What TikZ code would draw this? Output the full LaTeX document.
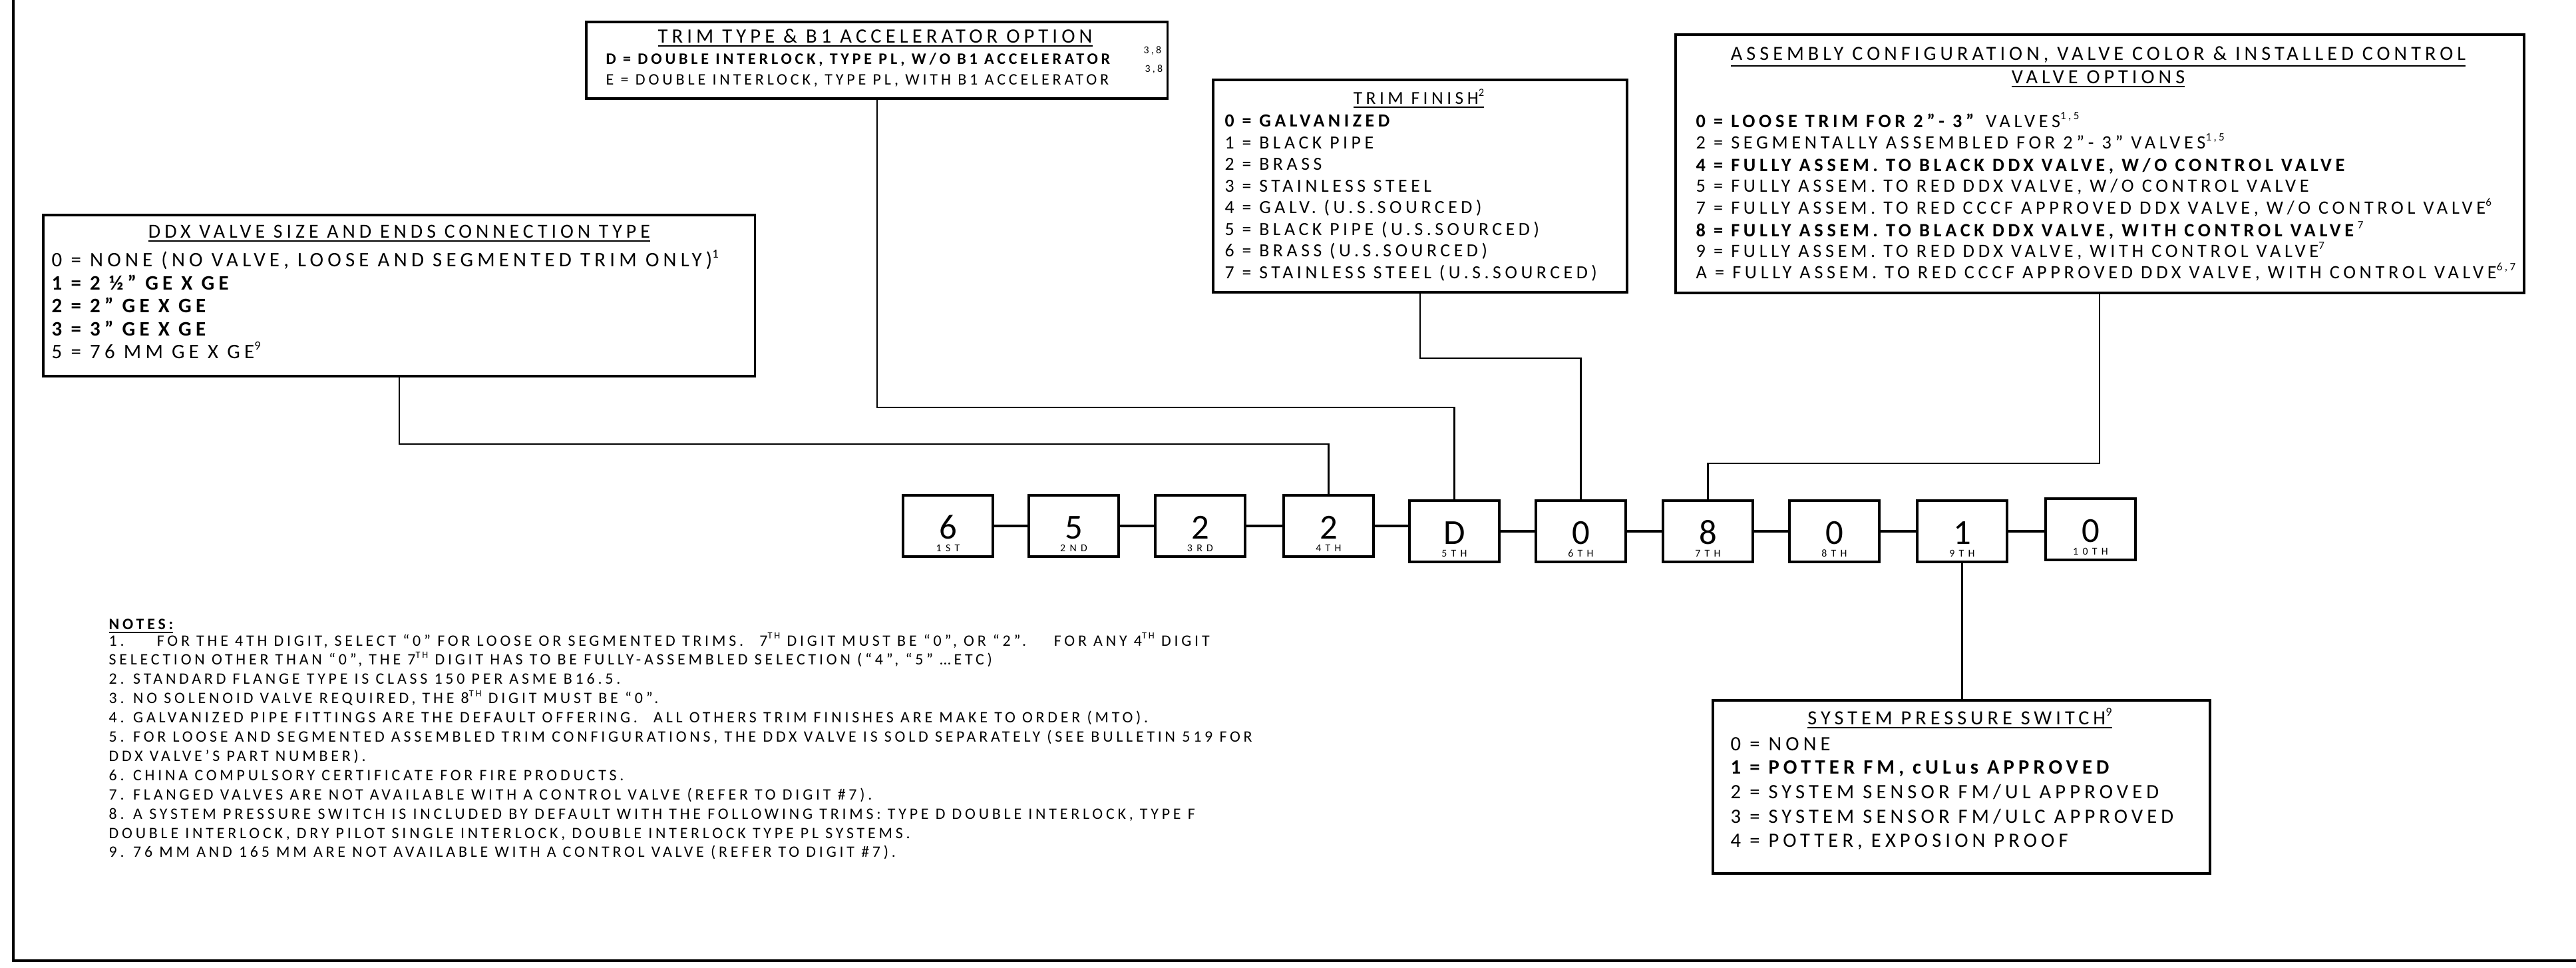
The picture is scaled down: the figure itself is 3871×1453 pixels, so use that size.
\documentclass[tikz,border=0pt]{standalone}
\usepackage{fontspec}
\setmainfont[LetterSpace=20]{Carlito}
\newfontfamily\plainfont{Carlito}
\newfontfamily\ordfont[LetterSpace=40]{Carlito}
\usetikzlibrary{calc}
\newcommand\fsz[1]{\fontsize{#1}{#1}\selectfont}
\newcommand\supx[1]{\raisebox{0.42em}{\scalebox{0.6}{#1}}}
\begin{document}
\begin{tikzpicture}[x=0.01cm,y=-0.01cm,
  box/.style={draw, line width=1.1pt, inner sep=0, anchor=north west},
  dbox/.style={draw, line width=1.1pt, inner sep=0, minimum width=1.35cm, minimum height=0.92cm, anchor=north west},
  dig/.style={anchor=base, inner sep=0, font=\plainfont\fsz{15}},
  ord/.style={anchor=base, inner sep=0, font=\ordfont\fsz{4.5}},
  conn/.style={line width=0.6pt},
  chain/.style={line width=0.9pt},
  ln/.style={anchor=base west, inner sep=0},
  ttl/.style={anchor=base, inner sep=0},
]
\useasboundingbox (0,0) rectangle (3871,1453);
% frame
\coordinate (ftop) at (20,0);
\coordinate (fbl) at (20,1443);
\coordinate (fbr) at (3871,1443);
\draw[line width=0.9pt] (ftop) -- (fbl) -- (fbr);

% option boxes
\node[box, minimum width=8.73cm, minimum height=1.15cm] (tt) at (879,31) {};
\node[box, minimum width=10.69cm, minimum height=2.42cm] (ddx) at (63,321) {};
\node[box, minimum width=6.22cm, minimum height=3.19cm] (tf) at (1821,118) {};
\node[box, minimum width=12.74cm, minimum height=3.88cm] (as) at (2516,50) {};
\node[box, minimum width=7.47cm, minimum height=2.60cm] (sp) at (2572,1050) {};

% digit boxes
\foreach \i/\x/\y/\d/\o in {1/1355/742/6/1ST, 2/1544/742/5/2ND, 3/1734/742/2/3RD, 4/1927/742/2/4TH, 5/2116/750/D/5TH, 6/2306/750/0/6TH, 7/2497/750/8/7TH, 8/2687/750/0/8TH, 9/2879/750/1/9TH, 10/3072/747/0/10TH} {
  \node[dbox] (b\i) at (\x,\y) {};
  \node[dig] (d\i) at ($(b\i.north)+(0,67)$) {\d};
  \node[ord] (o\i) at ($(b\i.north)+(0,86)$) {\o};
}
\draw[chain] (b1.east) -- (b2.west) (b2.east) -- (b3.west) (b3.east) -- (b4.west)
  (b4.east) -- (b4.east -| b5.west) (b5.east) -- (b6.west) (b6.east) -- (b7.west)
  (b7.east) -- (b8.west) (b8.east) -- (b9.west) (b9.east) -- (b9.east -| b10.west);

% connectors
\coordinate (j1) at (0,667);
\coordinate (j2) at (0,612);
\coordinate (j3) at (0,538);
\coordinate (j4) at (0,696);
\draw[conn] (ddx.south) |- (b4.north |- j1) -- (b4.north);
\draw[conn] (tt.south) |- (b5.north |- j2) -- (b5.north);
\draw[conn] (tf.south) |- (b6.north |- j3) -- (b6.north);
\draw[conn] (as.south) |- (b7.north |- j4) -- (b7.north);
\draw[conn] (b9.south) -- (b9.south |- sp.north);

% trim type box
\node[ttl, font=\fsz{8.7}] (tth) at (1315,64) {\underline{TRIM TYPE \& B1 ACCELERATOR OPTION}};
\node[ln, font=\fsz{6.85}] (tt1) at (910,96) {\textbf{D = DOUBLE INTERLOCK, TYPE PL, W/O B1 ACCELERATOR}};
\node[ln, font=\fsz{6.85}] (tt2) at (910,127) {E = DOUBLE INTERLOCK, TYPE PL, WITH B1 ACCELERATOR};
\node[ln, font=\fsz{4.5}] (tts1) at (1718,80) {3,8};
\node[ln, font=\fsz{4.5}] (tts2) at (1720,108) {3,8};

% ddx box
\node[ttl, font=\fsz{8.5}] (ddxh) at (600,357) {\underline{DDX VALVE SIZE AND ENDS CONNECTION TYPE}};
\foreach \t/\yy [count=\i] in {{0 = NONE (NO VALVE, LOOSE AND SEGMENTED TRIM ONLY)\supx{1}}/400,
  {\textbf{1 = 2 ½” GE X GE}}/435, {\textbf{2 = 2” GE X GE}}/469, {\textbf{3 = 3” GE X GE}}/504,
  {5 = 76 MM GE X GE\supx{9}}/538}
  \node[ln, font=\fsz{8.8}] (ddx\i) at (77,\yy) {\t};

% trim finish box
\node[ttl, font=\fsz{7.8}] (tfh) at (2132,156) {\underline{TRIM FINISH\supx{2}}};
\foreach \t/\yy [count=\i] in {{\textbf{0 = GALVANIZED}}/190, {1 = BLACK PIPE}/223, {2 = BRASS}/255,
  {3 = STAINLESS STEEL}/288, {4 = GALV. (U.S.SOURCED)}/320, {5 = BLACK PIPE (U.S.SOURCED)}/353,
  {6 = BRASS (U.S.SOURCED)}/385, {7 = STAINLESS STEEL (U.S.SOURCED)}/418}
  \node[ln, font=\fsz{7.9}] (tf\i) at (1840,\yy) {\t};

% assembly box
\node[ttl, font=\fsz{8.6}] (ash1) at (3153,90) {\underline{ASSEMBLY CONFIGURATION, VALVE COLOR \& INSTALLED CONTROL}};
\node[ttl, font=\fsz{8.6}] (ash2) at (3153,125) {\underline{VALVE OPTIONS}};
\foreach \t/\yy [count=\i] in {{\textbf{0 = LOOSE TRIM FOR 2”- 3”} VALVES\supx{1,5}}/191,
  {2 = SEGMENTALLY ASSEMBLED FOR 2”- 3” VALVES\supx{1,5}}/223,
  {\textbf{4 = FULLY ASSEM. TO BLACK DDX VALVE, W/O CONTROL VALVE}}/257,
  {5 = FULLY ASSEM. TO RED DDX VALVE, W/O CONTROL VALVE}/288,
  {7 = FULLY ASSEM. TO RED CCCF APPROVED DDX VALVE, W/O CONTROL VALVE\supx{6}}/321,
  {\textbf{8 = FULLY ASSEM. TO BLACK DDX VALVE, WITH CONTROL VALVE}\supx{7}}/355,
  {9 = FULLY ASSEM. TO RED DDX VALVE, WITH CONTROL VALVE\supx{7}}/386,
  {A = FULLY ASSEM. TO RED CCCF APPROVED DDX VALVE, WITH CONTROL VALVE\supx{6,7}}/418}
  \node[ln, font=\fsz{8.05}] (as\i) at (2548,\yy) {\t};

% system pressure switch box
\node[ttl, font=\fsz{8.6}] (sph) at (2945,1088) {\underline{SYSTEM PRESSURE SWITCH\supx{9}}};
\foreach \t/\yy [count=\i] in {{0 = NONE}/1127, {\textbf{1 = POTTER FM, cULus APPROVED}}/1162,
  {2 = SYSTEM SENSOR FM/UL APPROVED}/1199, {3 = SYSTEM SENSOR FM/ULC APPROVED}/1236,
  {4 = POTTER, EXPOSION PROOF}/1272}
  \node[ln, font=\fsz{8.7}] (sp\i) at (2600,\yy) {\t};

% notes
\node[ln, font=\fsz{6.8}] (nh) at (163,945) {\textbf{\underline{NOTES:}}};
\foreach \t [count=\i from 0] in {
  {1.\hspace{14pt}FOR THE 4TH DIGIT, SELECT “0” FOR LOOSE OR SEGMENTED TRIMS.\hspace{4pt} 7\supx{TH} DIGIT MUST BE “0”, OR “2”.\hspace{8pt} FOR ANY 4\supx{TH} DIGIT},
  {SELECTION OTHER THAN “0”, THE 7\supx{TH} DIGIT HAS TO BE FULLY-ASSEMBLED SELECTION (“4”, “5” …ETC)},
  {2. STANDARD FLANGE TYPE IS CLASS 150 PER ASME B16.5.},
  {3. NO SOLENOID VALVE REQUIRED, THE 8\supx{TH} DIGIT MUST BE “0”.},
  {4. GALVANIZED PIPE FITTINGS ARE THE DEFAULT OFFERING.\hspace{4pt} ALL OTHERS TRIM FINISHES ARE MAKE TO ORDER (MTO).},
  {5. FOR LOOSE AND SEGMENTED ASSEMBLED TRIM CONFIGURATIONS, THE DDX VALVE IS SOLD SEPARATELY (SEE BULLETIN 519 FOR},
  {DDX VALVE’S PART NUMBER).},
  {6. CHINA COMPULSORY CERTIFICATE FOR FIRE PRODUCTS.},
  {7. FLANGED VALVES ARE NOT AVAILABLE WITH A CONTROL VALVE (REFER TO DIGIT \#7).},
  {8. A SYSTEM PRESSURE SWITCH IS INCLUDED BY DEFAULT WITH THE FOLLOWING TRIMS: TYPE D DOUBLE INTERLOCK, TYPE F},
  {DOUBLE INTERLOCK, DRY PILOT SINGLE INTERLOCK, DOUBLE INTERLOCK TYPE PL SYSTEMS.},
  {9. 76 MM AND 165 MM ARE NOT AVAILABLE WITH A CONTROL VALVE (REFER TO DIGIT \#7).}}
  \node[ln, font=\fsz{6.8}] (n\i) at (163,{970+28.9*\i}) {\t};
\end{tikzpicture}
\end{document}
